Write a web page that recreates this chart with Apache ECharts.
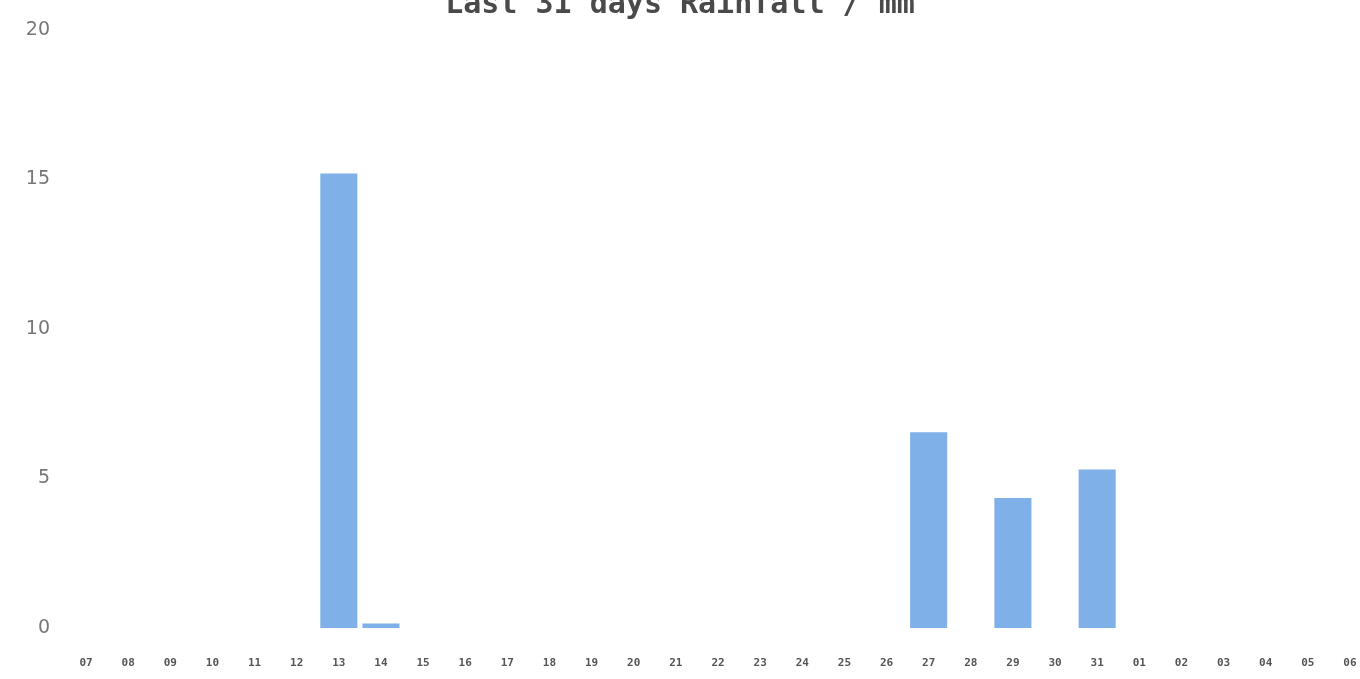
<!DOCTYPE html>
<html>
<head>
<meta charset="utf-8">
<script src="https://cdn.jsdelivr.net/npm/echarts@6/dist/echarts.min.js"></script>
<style>
  html, body { margin: 0; padding: 0; background: #fff; }
  #chart { width: 1360px; height: 679px; }
</style>
</head>
<body>
<div id="chart"></div>
<script>
const days = ["07", "08", "09", "10", "11", "12", "13", "14", "15", "16", "17", "18", "19", "20", "21", "22",
  "23", "24", "25", "26", "27", "28", "29", "30", "31", "01", "02", "03", "04", "05", "06"];
const rainfall = [0, 0, 0, 0, 0, 0, 15.2, 0.15, 0, 0, 0, 0, 0, 0, 0, 0,
  0, 0, 0, 0, 6.55, 0, 4.35, 0, 5.3, 0, 0, 0, 0, 0, 0];
const yTicks = [0, 5, 10, 15, 20];

const chart = echarts.init(document.getElementById("chart"));

chart.setOption({
  animation: false,
  title: {
    text: "Last 31 days Rainfall / mm",
    left: "center",
    top: -15,
    textStyle: {
      fontFamily: "DejaVu Sans Mono",
      fontWeight: "bold",
      fontSize: 30,
      color: "#4a4a4a",
    },
  },
  grid: { left: 65, right: -11, top: 30, bottom: 51, outerBoundsMode: "none" },
  xAxis: {
    type: "category",
    data: days,
    axisLine: { show: false },
    axisTick: { show: false },
    axisLabel: {
      interval: 0,
      margin: 30,
      color: "#555",
      fontFamily: "DejaVu Sans Mono",
      fontWeight: "bold",
      fontSize: 11,
    },
  },
  yAxis: {
    type: "value",
    min: yTicks[0],
    max: yTicks[yTicks.length - 1],
    interval: 5,
    axisLine: { show: false },
    axisTick: { show: false },
    splitLine: { show: false },
    axisLabel: {
      margin: 15,
      color: "#777",
      fontFamily: "DejaVu Sans",
      fontSize: 19,
    },
  },
  series: [
    {
      type: "bar",
      data: rainfall,
      barWidth: "88%",
      itemStyle: { color: "#80b0e8" },
    },
  ],
});
</script>
</body>
</html>
